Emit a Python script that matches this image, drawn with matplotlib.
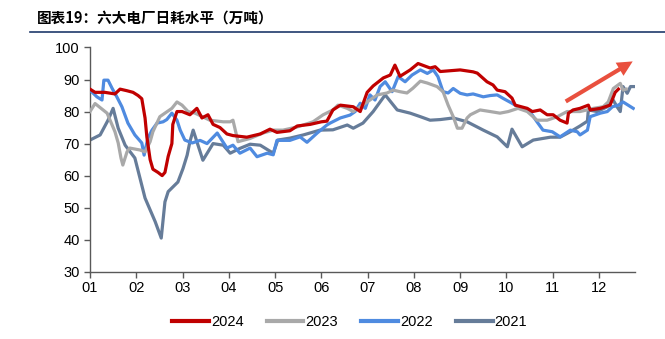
import matplotlib
matplotlib.use('Agg')
import matplotlib.pyplot as plt
from matplotlib.lines import Line2D

plt.rcParams['font.family'] = ['Liberation Sans', 'DejaVu Sans']

# x in months after Jan 1 (0 = "01")
x_2024 = [0, 0.11, 0.32, 0.54, 0.65, 0.80, 0.93, 1.04, 1.12, 1.19, 1.23, 1.30, 1.36, 1.47, 1.56, 1.62,
          1.69, 1.77, 1.79, 1.88, 1.99, 2.16, 2.31, 2.42, 2.55, 2.66, 2.81, 2.96, 3.09, 3.39, 3.68, 3.89,
          4.04, 4.32, 4.48, 4.76, 5.0, 5.12, 5.25, 5.41, 5.69, 5.84, 5.99, 6.12, 6.34, 6.49, 6.59, 6.70,
          6.92, 7.09, 7.35, 7.46, 7.57, 8.0, 8.28, 8.37, 8.58, 8.71, 8.80, 8.97, 9.12, 9.19, 9.45, 9.56,
          9.73, 9.88, 10.01, 10.16, 10.31, 10.34, 10.44, 10.59, 10.77, 10.81, 11.03, 11.24, 11.35, 11.42]
y_2024 = [87, 86, 86, 85.5, 87, 86.5, 86, 85, 84, 78, 72, 65, 62, 61, 60, 61,
          66, 70, 76, 80, 80, 79, 81, 78, 79, 76, 75, 73, 72.5, 72, 73, 74.5,
          73.5, 74, 75.5, 76, 76.8, 77, 80.5, 82, 81.5, 80, 86, 88, 90.5, 91.4, 94.5, 91,
          93, 95, 93.6, 94, 92.5, 93, 92.4, 92, 89.3, 88.3, 86.7, 86.2, 84.2, 82, 81, 80,
          80.5, 79, 79, 77.3, 76.4, 79.5, 80.5, 81, 82, 80.5, 81, 82, 86, 87]

x_2023 = [0, 0.11, 0.37, 0.54, 0.61, 0.67, 0.71, 0.80, 0.86, 1.08, 1.19, 1.30, 1.36, 1.51, 1.62, 1.77,
          1.88, 1.99, 2.12, 2.27, 2.59, 2.88, 3.03, 3.09, 3.20, 3.46, 3.74, 3.96, 4.17, 4.48, 4.82, 5.04,
          5.25, 5.36, 5.56, 5.69, 5.99, 6.21, 6.42, 6.55, 6.70, 6.85, 6.98, 7.14, 7.29, 7.50, 7.63, 7.74,
          7.85, 7.94, 8.04, 8.15, 8.22, 8.43, 8.65, 8.86, 9.04, 9.25, 9.45, 9.66, 9.88, 10.10, 10.31, 10.59,
          10.88, 11.09, 11.20, 11.31, 11.46, 11.52, 11.59]
y_2023 = [80, 82.5, 79.5, 73.7, 70.2, 65.5, 63.3, 67.4, 68.6, 68, 67.4, 70.6, 73.7, 78.4, 79.5, 81,
          83, 82, 80, 79.5, 77.3, 76.8, 76.8, 77.3, 70.6, 71.6, 73.3, 74.2, 74.2, 75.2, 76.8, 79,
          80.5, 82, 81, 80, 83, 85.2, 85.8, 86.7, 86.2, 85.8, 87.3, 89.5, 88.9, 87.8, 86.2, 82,
          78.4, 74.8, 74.8, 78, 79, 80.5, 80, 79.5, 80, 81, 80, 77.3, 77.3, 78.4, 80, 80,
          81, 81.5, 83, 87.2, 88.8, 86.7, 87]

x_2022 = [0, 0.15, 0.26, 0.30, 0.39, 0.48, 0.58, 0.69, 0.82, 0.97, 1.12, 1.17, 1.25, 1.34, 1.45, 1.58,
          1.66, 1.77, 1.88, 1.95, 2.05, 2.21, 2.38, 2.53, 2.75, 2.96, 3.09, 3.24, 3.46, 3.61, 3.83, 3.96,
          4.04, 4.32, 4.54, 4.69, 4.91, 5.12, 5.19, 5.41, 5.62, 5.73, 5.84, 5.95, 6.05, 6.16, 6.27, 6.38,
          6.53, 6.66, 6.81, 6.96, 7.14, 7.29, 7.42, 7.52, 7.63, 7.74, 7.85, 8.0, 8.15, 8.28, 8.50, 8.65,
          8.80, 8.93, 9.12, 9.25, 9.45, 9.56, 9.66, 9.79, 9.99, 10.16, 10.38, 10.53, 10.59, 10.75, 10.81, 11.03,
          11.18, 11.29, 11.42, 11.52, 11.63, 11.74]
y_2022 = [86.7, 84.6, 83.6, 89.8, 89.8, 87.2, 84.6, 81.5, 76.4, 72.7, 70.2, 66.4, 71.6, 74.2, 76.4, 76.8,
          77.5, 79.5, 77.3, 74.2, 71.1, 70.2, 71, 70, 73.3, 68.6, 69.5, 67, 68.6, 65.9, 67, 66.5,
          71, 71, 72.1, 70.4, 73.3, 75.8, 76.4, 78, 78.9, 80, 82.6, 81, 85.2, 83.6, 87.8, 89.3,
          86.2, 90.9, 89.3, 91.4, 93, 91.9, 93, 90.9, 86.2, 85.8, 87.2, 85.7, 85.2, 85.5, 84.6, 85,
          85.2, 84.1, 82.6, 81.5, 80.5, 78.9, 76.8, 74.2, 73.7, 72.1, 74.2, 73.7, 72.7, 74.2, 78.4, 79.5,
          80, 81.5, 82, 83, 82, 81]

x_2021 = [0, 0.22, 0.39, 0.50, 0.61, 0.76, 0.97, 1.19, 1.41, 1.54, 1.62, 1.69, 1.90, 2.01, 2.10, 2.16,
          2.23, 2.44, 2.66, 2.88, 3.03, 3.24, 3.46, 3.68, 3.96, 4.06, 4.32, 4.61, 4.97, 5.25, 5.56, 5.69,
          5.90, 6.12, 6.38, 6.64, 6.92, 7.14, 7.35, 7.57, 7.85, 8.15, 8.50, 8.80, 9.02, 9.12, 9.34, 9.58,
          9.95, 10.16, 10.38, 10.59, 10.75, 10.77, 10.96, 11.18, 11.29, 11.39, 11.46, 11.52, 11.61, 11.68, 11.78]
y_2021 = [71.1, 72.7, 77.3, 81, 74.8, 69.5, 65.5, 53, 45.6, 40.5, 51.8, 55, 58, 62.2, 66.4, 70.6,
          74.2, 64.8, 70, 69.5, 67, 68.5, 69.8, 69.5, 67, 71.1, 71.7, 72.7, 74.2, 74.3, 75.8, 74.8,
          76.4, 80, 85.2, 80.5, 79.5, 78.4, 77.3, 77.5, 78, 76.8, 74.2, 72.1, 69, 74.5, 69, 71.1,
          72, 72, 73.7, 75.5, 77, 80.5, 80, 81.5, 84, 81.5, 80, 87.8, 85.7, 87.8, 87.8]

month_labels = ['01', '02', '03', '04', '05', '06', '07', '08', '09', '10', '11', '12']

fig = plt.figure(figsize=(6.65, 3.39), dpi=100)
ax = fig.add_axes([0.1353, 0.1985, 0.8197, 0.6614])

lw = 2.3
ax.plot(x_2021, y_2021, color='#667c99', lw=lw, label='2021', zorder=2)
ax.plot(x_2022, y_2022, color='#4f8be0', lw=lw, label='2022', zorder=3)
ax.plot(x_2023, y_2023, color='#a9a9a9', lw=lw, label='2023', zorder=4)
ax.plot(x_2024, y_2024, color='#c00000', lw=lw, label='2024', zorder=5)

# trend arrow
ax.annotate('', xy=(11.78, 96.1), xytext=(10.23, 82.7),
            arrowprops=dict(arrowstyle='simple,head_length=1.1,head_width=1.1,tail_width=0.3',
                            color='#e9503e', lw=0))

ax.set_xlim(0, 11.78)
ax.set_ylim(30, 100)
ax.set_xticks(range(12))
ax.set_xticklabels(month_labels)
ax.set_yticks(range(30, 101, 10))
for s in ['top', 'right']:
    ax.spines[s].set_visible(False)
for s in ['left', 'bottom']:
    ax.spines[s].set_color('#595959')
    ax.spines[s].set_linewidth(1.0)
ax.tick_params(axis='both', colors='#595959', labelcolor='black', labelsize=10.5, length=4, width=1.0)
ax.tick_params(axis='x', pad=3)

handles = [Line2D([], [], color='#c00000', lw=3),
           Line2D([], [], color='#a9a9a9', lw=3),
           Line2D([], [], color='#4f8be0', lw=3),
           Line2D([], [], color='#667c99', lw=3)]
fig.legend(handles, ['2024', '2023', '2022', '2021'], loc='center', bbox_to_anchor=(0.526, 0.05),
           ncol=4, frameon=False, fontsize=10.5, handlelength=2.5, handletextpad=0.15, columnspacing=1.6)

fig.text(0.056, 0.948, '图表19：六大电厂日耗水平（万吨）', fontsize=10.5, fontweight='bold',
         family=['Noto Sans CJK SC', 'DejaVu Sans'], va='center', ha='left')
fig.add_artist(Line2D([0.045, 1.0], [0.907, 0.907], color='#1f3a6b', lw=1.2))

fig.savefig('out.png', dpi=100)
